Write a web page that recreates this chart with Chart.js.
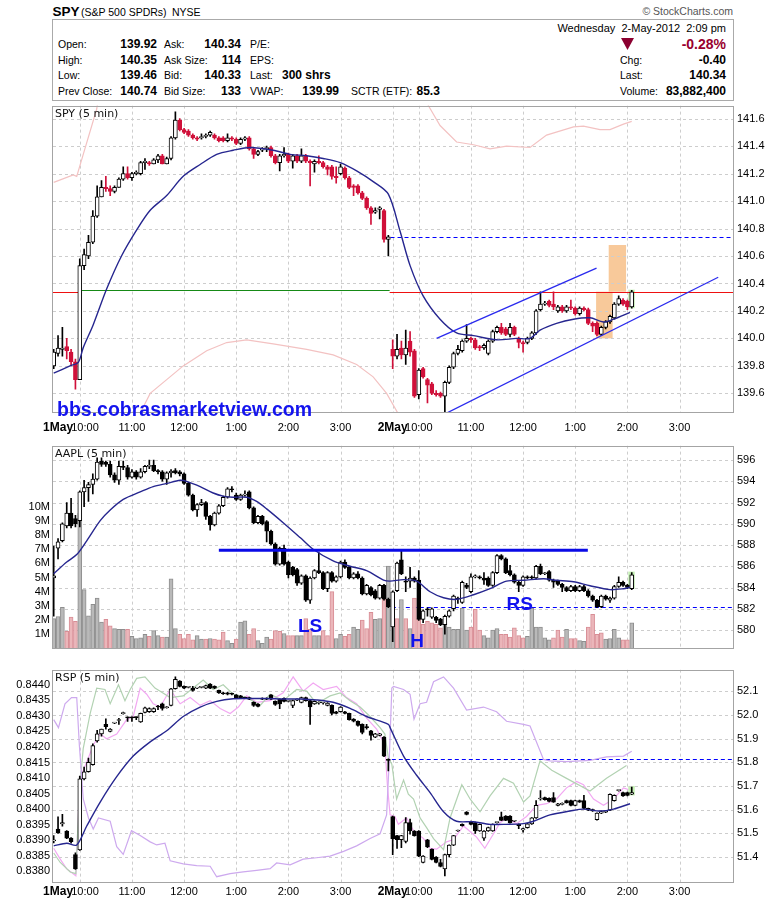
<!DOCTYPE html>
<html><head><meta charset="utf-8">
<script src="https://cdn.jsdelivr.net/npm/chart.js@4.4.1/dist/chart.umd.min.js"></script>
<style>
html,body{margin:0;padding:0;background:#fff;}
body{width:780px;height:901px;position:relative;overflow:hidden;font-family:"Liberation Sans",Arial,sans-serif;}
canvas{position:absolute;left:0;}
.t{position:absolute;white-space:nowrap;color:#000;}
#box{position:absolute;left:52px;top:19px;width:680px;height:80px;border:1px solid #aaa;}
</style></head><body>
<div id="box"></div>
<div id="hdr"></div>
<svg style="position:absolute;left:620px;top:37px" width="16" height="14"><polygon points="1,1 14,1 7.5,13" fill="#8b0030"/></svg>
<canvas id="cA" width="780" height="345" style="top:95px;width:780px;height:345px"></canvas>
<canvas id="cB" width="780" height="224" style="top:435px;width:780px;height:224px"></canvas>
<canvas id="cC" width="780" height="242" style="top:659px;width:780px;height:242px"></canvas>
<script>
// ---------------- DATA ----------------
const X_MIN = -0.16, X_MAX = 156.3;
const GRID_X = [6,18,30,42,54,66,78,84,96,108,120,132,144];
const timeLabelSlots = [1.0,7.2,18,30,42,54,66,78,84,96,108,120,132,144];
const timeLabels = ['1May','10:00','11:00','12:00','1:00','2:00','3:00','2May','10:00','11:00','12:00','1:00','2:00','3:00'];
const dayLabels = ['1May','2May'];

const spyTicks = [139.6,139.8,140.0,140.2,140.4,140.6,140.8,141.0,141.2,141.4,141.6];
const aaplTicks = [580,582,584,586,588,590,592,594,596];
const volTicks = [1,2,3,4,5,6,7,8,9,10];
const rspTicks = [51.4,51.5,51.6,51.7,51.8,51.9,52.0,52.1];
const rspLeftTicks = [0.8380,0.8385,0.8390,0.8395,0.8400,0.8405,0.8410,0.8415,0.8420,0.8425,0.8430,0.8435,0.8440];

const spyO = [
139.80,139.89,139.92,139.94,139.90,139.83,139.70,140.53,140.60,140.70,
140.89,141.03,141.10,141.09,141.07,141.10,141.16,141.20,141.17,141.20,
141.20,141.28,141.28,141.27,141.30,141.33,141.27,141.31,141.46,141.59,
141.52,141.51,141.48,141.46,141.46,141.47,141.48,141.48,141.46,141.46,
141.44,141.46,141.45,141.42,141.45,141.46,141.38,141.34,141.37,141.38,
141.39,141.33,141.28,141.33,141.34,141.29,141.33,141.29,141.33,141.29,
141.27,141.29,141.28,141.25,141.25,141.18,141.20,141.24,141.17,141.11,
141.11,141.06,141.02,140.95,140.92,140.94,140.93,140.72,139.92,139.87,
139.93,139.88,139.98,139.91,139.59,139.78,139.70,139.67,139.60,139.60,
139.58,139.68,139.79,139.89,139.91,139.98,140.00,139.99,139.94,139.93,
139.89,139.98,140.05,140.08,140.07,140.03,140.08,140.00,139.97,139.97,
140.00,140.04,140.21,140.25,140.27,140.25,140.20,140.23,140.20,140.23,
140.22,140.18,140.22,140.21,140.11,140.11,140.03,140.08,140.12,140.15,
140.25,140.28,140.27,140.23];
const spyH = [
139.92,140.02,140.08,140.00,139.92,139.85,140.58,140.65,140.75,140.93,
141.11,141.15,141.18,141.11,141.11,141.17,141.25,141.25,141.21,141.22,
141.29,141.31,141.29,141.31,141.34,141.34,141.32,141.47,141.65,141.60,
141.53,141.52,141.49,141.47,141.49,141.49,141.51,141.49,141.47,141.47,
141.49,141.47,141.46,141.46,141.47,141.47,141.39,141.37,141.39,141.40,
141.40,141.34,141.34,141.39,141.35,141.34,141.34,141.38,141.34,141.30,
141.30,141.33,141.29,141.26,141.26,141.25,141.27,141.25,141.18,141.12,
141.12,141.07,141.03,140.96,140.95,140.96,140.94,140.75,139.99,140.03,
139.98,140.06,140.05,139.92,139.78,139.79,139.71,139.68,139.62,139.61,
139.69,139.80,139.90,139.95,139.99,140.10,140.01,140.00,139.95,139.96,
139.99,140.06,140.09,140.11,140.08,140.11,140.09,140.01,139.98,140.01,
140.05,140.21,140.34,140.27,140.28,140.34,140.24,140.24,140.24,140.28,
140.23,140.23,140.23,140.22,140.12,140.12,140.09,140.13,140.17,140.26,
140.31,140.29,140.28,140.35];
const spyL = [
139.78,139.87,139.87,139.85,139.80,139.63,139.70,140.50,140.58,140.69,
140.88,141.03,141.07,141.04,141.06,141.10,141.15,141.16,141.15,141.19,
141.19,141.23,141.26,141.27,141.28,141.27,141.27,141.30,141.45,141.51,
141.49,141.47,141.45,141.44,141.45,141.46,141.47,141.45,141.43,141.43,
141.43,141.44,141.41,141.41,141.44,141.37,141.31,141.33,141.36,141.36,
141.32,141.27,141.22,141.32,141.28,141.24,141.28,141.28,141.28,141.11,
141.21,141.27,141.24,141.19,141.16,141.13,141.19,141.16,141.09,141.04,
141.05,141.01,140.94,140.83,140.91,140.87,140.70,140.60,139.78,139.85,
139.85,139.81,139.87,139.57,139.56,139.71,139.53,139.59,139.58,139.57,
139.46,139.67,139.78,139.88,139.90,139.97,139.97,139.92,139.91,139.92,
139.88,139.97,140.04,140.03,140.02,140.01,140.02,139.93,139.90,139.96,
139.99,140.03,140.20,140.24,140.23,140.21,140.19,140.19,140.19,140.21,
140.17,140.17,140.20,140.10,140.05,140.02,140.02,140.07,140.11,140.14,
140.24,140.24,140.21,140.22];
const spyC = [
139.90,139.93,139.93,139.91,139.83,139.70,140.53,140.61,140.70,140.89,
141.03,141.10,141.09,141.07,141.10,141.16,141.20,141.17,141.20,141.21,
141.28,141.29,141.27,141.30,141.33,141.27,141.31,141.46,141.59,141.52,
141.50,141.48,141.46,141.45,141.47,141.48,141.50,141.46,141.44,141.44,
141.46,141.45,141.42,141.45,141.46,141.38,141.34,141.36,141.38,141.39,
141.33,141.28,141.33,141.34,141.29,141.33,141.29,141.33,141.29,141.28,
141.29,141.28,141.25,141.23,141.18,141.17,141.25,141.17,141.10,141.10,
141.06,141.02,140.95,140.91,140.93,140.95,140.72,140.74,139.87,139.92,
139.88,139.93,139.90,139.58,139.77,139.72,139.66,139.60,139.59,139.58,
139.68,139.79,139.89,139.92,139.98,140.00,139.99,139.93,139.93,139.95,
139.98,140.05,140.08,140.04,140.03,140.08,140.03,139.97,139.96,140.00,
140.04,140.20,140.25,140.25,140.24,140.23,140.23,140.20,140.23,140.22,
140.18,140.22,140.21,140.11,140.09,140.03,140.08,140.12,140.16,140.25,
140.29,140.25,140.23,140.34];

const spyMaX = [0,3.75,5.66,6.8,9.1,12.2,15.6,19.1,22.2,26,29.8,33.7,37.5,41.3,45.2,50.5,54.4,58.2,62,65.9,69.7,73.6,77,79.7,82,85,88.9,92.7,96.6,101.9,106.5,109.6,111.9,115.7,119.6,123.4,126.5,128.8,132.6];
const spyMaY = [139.747,139.80,139.826,139.933,140.10,140.361,140.60,140.79,140.933,141.04,141.18,141.266,141.34,141.37,141.39,141.37,141.34,141.33,141.31,141.28,141.22,141.14,141.05,140.78,140.53,140.31,140.14,140.04,140.02,139.99,140.00,140.00,140.06,140.11,140.14,140.15,140.12,140.14,140.19];
const spyUp1X = [0,4.5,5.3,6.8,9.9,11.2];
const spyUp1Y = [141.136,141.19,141.18,141.34,141.67,141.95];
const spyUp2X = [80,86.2,88.9,92.7,96.6,100.4,104.2,109.6,113.4,119.6,121.9,125.7,128,131.1,133];
const spyUp2Y = [142.3,141.695,141.55,141.43,141.41,141.38,141.40,141.39,141.48,141.54,141.545,141.52,141.52,141.56,141.58];
const spyLoX = [19,22.2,26,29.8,35.2,39.8,44.4,50.5,58.2,64.3,69.7,73.5,76.6,79.3,80];
const spyLoY = [139.40,139.60,139.70,139.80,139.91,139.97,139.99,139.96,139.92,139.88,139.81,139.72,139.60,139.45,139.40];

const aaplO = [
584.9,587.7,588.4,589.8,591.0,590.5,590.3,593.0,593.4,593.7,
594.2,595.9,595.8,595.6,594.6,594.1,595.4,595.3,594.4,594.9,
594.4,594.9,595.4,595.5,595.0,594.9,594.2,594.8,595.0,594.9,
594.7,593.8,592.7,591.3,591.8,592.0,590.7,589.9,591.0,591.7,
592.5,593.3,592.7,592.3,592.7,593.0,591.5,590.1,590.7,590.2,
589.3,588.1,586.2,587.7,586.4,585.9,585.7,584.4,585.1,582.8,
584.9,585.6,585.4,583.9,585.4,584.6,585.0,586.4,585.9,584.9,
585.3,584.9,583.4,584.0,583.7,583.0,584.2,582.9,580.3,583.7,
586.6,584.6,584.6,584.9,584.7,581.0,582.0,581.2,581.2,581.0,
580.5,581.3,582.0,583.0,582.6,584.2,583.6,585.0,585.0,584.9,
584.9,584.2,585.4,587.0,586.7,585.6,585.2,584.5,584.2,585.0,
585.0,584.9,586.0,585.3,585.5,584.7,584.6,584.3,584.0,583.7,
584.1,583.7,584.1,583.7,583.2,582.8,582.2,583.2,582.8,583.0,
584.1,584.5,584.2,583.9];
const aaplH = [
587.9,588.6,590.1,592.0,592.4,590.8,593.1,594.1,593.9,594.7,
596.2,596.2,595.9,595.9,594.8,595.9,595.9,595.5,595.1,595.0,
595.2,595.5,596.0,596.0,595.1,595.0,594.9,595.1,595.2,595.0,
594.8,593.9,592.8,591.9,592.3,592.1,590.8,591.1,591.8,592.6,
593.4,593.5,592.9,592.8,593.1,593.1,591.6,590.8,590.8,590.3,
589.4,588.2,587.8,588.0,586.5,586.0,585.8,585.2,585.2,585.0,
585.7,587.3,585.5,585.5,585.5,585.1,586.5,586.6,586.0,585.4,
585.5,585.0,584.3,584.1,583.8,584.3,584.3,583.0,583.7,586.4,
587.4,585.0,585.9,585.0,585.6,581.9,582.1,582.1,581.3,581.1,
581.4,581.9,583.3,583.1,584.6,584.4,585.3,585.2,585.1,585.4,
585.0,585.5,587.1,587.1,586.8,586.1,585.3,584.6,585.1,585.1,
585.1,586.1,586.2,585.4,585.6,584.8,584.7,584.4,584.1,584.2,
584.2,584.2,584.2,583.8,583.3,582.9,583.3,583.3,583.1,584.2,
585.0,584.6,584.3,585.4];
const aaplL = [
581.3,586.7,588.3,589.6,589.6,589.7,589.7,591.6,592.1,592.8,
594.1,595.4,595.4,594.4,593.9,593.7,595.1,594.2,594.3,594.2,
594.3,594.8,595.2,594.9,594.7,594.0,593.7,594.4,594.7,594.5,
593.7,592.6,591.2,590.7,591.7,590.4,589.4,589.8,590.9,591.6,
592.4,593.0,592.2,592.2,592.6,591.4,590.0,590.0,589.9,588.3,
588.0,586.1,586.1,586.1,584.9,585.1,584.2,584.3,582.7,582.5,
584.8,585.3,583.8,583.6,584.5,584.5,584.9,585.8,584.8,584.8,
584.8,583.3,583.3,583.2,582.9,582.9,582.8,582.1,578.9,583.6,
585.2,583.6,584.0,584.5,580.9,580.7,581.3,581.1,580.7,580.4,
579.6,581.2,581.8,582.5,582.5,583.9,583.5,584.9,584.8,584.3,
584.1,584.1,585.3,586.6,585.3,585.1,584.4,583.6,584.1,584.8,
584.8,584.8,585.2,585.2,584.6,584.0,584.2,583.6,583.6,583.6,
583.6,583.6,583.6,583.1,582.7,582.1,582.1,582.8,582.6,582.9,
584.0,584.1,583.9,583.8];
const aaplC = [
585.1,588.3,590.0,591.0,589.8,590.0,593.0,593.4,593.7,594.2,
595.8,595.6,595.6,594.6,594.1,595.4,595.3,594.4,594.9,594.4,
594.9,595.4,595.5,595.0,594.9,594.2,594.8,594.95,594.8,594.7,
593.8,592.7,591.3,591.8,592.0,590.7,589.9,591.0,591.7,592.5,
593.3,593.2,592.3,592.7,592.8,591.5,590.1,590.7,590.0,589.3,
588.1,586.2,587.7,586.2,585.2,585.2,584.4,585.1,582.8,584.9,
585.6,585.4,583.9,585.4,584.6,585.0,586.4,585.9,584.9,585.3,
584.9,583.4,584.2,583.3,583.0,584.2,582.9,582.2,583.6,586.3,
585.3,584.5,584.9,584.6,581.0,581.8,581.9,582.0,580.9,580.5,
581.3,581.8,583.2,582.9,584.5,584.0,585.0,585.1,584.9,584.7,
584.2,585.4,587.0,586.7,585.4,585.2,584.5,584.2,585.0,584.9,
584.9,586.0,585.3,585.3,584.7,584.5,584.3,584.0,583.7,584.1,
583.7,584.1,583.7,583.2,582.8,582.2,583.2,582.9,583.0,584.1,
584.5,584.2,584.0,585.2];
const aaplVol = [
2.1,2.25,2.9,1.2,2.2,1.9,9.55,4.15,2.3,3.1,
3.55,1.85,2.05,1.6,1.4,1.35,1.35,1.35,0.85,0.7,
0.75,1.0,0.85,1.25,0.9,0.8,0.8,4.9,1.4,1.0,
0.7,1.0,0.6,0.9,0.65,0.65,0.7,0.65,0.6,1.15,
0.55,0.35,0.65,1.85,1.95,1.0,1.4,0.55,0.35,0.8,
0.65,1.25,1.2,1.05,0.9,0.9,0.9,0.9,2.1,1.35,
0.9,0.9,1.25,0.9,4.0,0.7,1.0,0.85,1.0,1.5,
1.35,2.0,1.4,2.55,2.05,2.1,4.15,5.8,3.0,2.1,
3.45,2.1,1.4,3.55,2.1,1.7,1.9,1.8,1.7,1.45,
1.85,1.5,1.35,1.35,2.85,1.3,1.5,2.75,1.3,0.9,
0.75,1.3,1.4,1.0,1.0,0.8,1.45,0.9,0.75,0.85,
2.85,1.5,1.5,0.75,0.6,0.75,1.3,0.8,1.35,0.7,
0.7,0.55,0.5,1.5,2.4,1.0,1.1,0.65,0.7,1.35,
0.75,0.6,0.6,1.8];
const aaplVolUp = [
1,1,1,0,0,0,1,1,1,1,
1,1,0,0,1,1,1,0,1,1,
1,1,0,1,1,0,1,1,1,0,
0,0,0,1,1,0,1,0,0,0,
1,1,0,1,1,0,0,1,1,1,
0,0,0,1,0,0,1,1,0,0,
1,1,0,0,0,1,1,0,0,1,
1,0,0,0,1,1,0,1,1,0,
1,0,1,0,0,0,0,0,0,0,
1,1,1,1,1,1,0,0,0,1,
1,1,1,0,0,0,0,0,0,1,
1,1,1,1,1,0,0,0,1,0,
0,1,1,0,0,0,0,1,1,1,
1,0,0,1];
const aaplMaX = [0,3,5.3,7.6,10.7,13,16,19.9,22.9,26,29.1,30.6,33.7,36.7,39,41.3,44.4,46.7,49,52.8,56.7,59.7,64.3,68.2,72,75.9,77.4,80.5,83.5,86.6,89.7,92.7,96.6,100.4,104.2,108.1,112.7,115.7,119.6,123.4,128,131.1,132.6];
const aaplMaY = [585.3,586.4,587.1,588.4,590.3,591.3,592.3,593.0,593.5,593.8,594.1,594.0,593.5,592.9,592.6,592.5,592.5,592.1,591.4,590.1,588.7,587.6,586.5,586.0,585.6,584.7,584.6,584.74,584.6,583.6,583.04,582.89,583.32,583.89,584.6,584.68,584.82,584.68,584.54,584.17,583.8,583.89,584.03];

const rspO = [
51.468,51.518,51.540,51.510,51.480,51.410,51.430,51.730,51.760,51.790,
51.890,51.920,51.960,51.930,51.965,51.976,52.005,51.990,51.990,51.990,
51.970,52.010,52.013,52.013,52.036,52.047,52.030,52.040,52.110,52.143,
52.120,52.116,52.113,52.113,52.116,52.113,52.130,52.120,52.103,52.093,
52.093,52.090,52.084,52.080,52.073,52.073,52.053,52.046,52.070,52.070,
52.084,52.057,52.066,52.070,52.057,52.040,52.062,52.053,52.073,52.060,
52.046,52.050,52.050,52.040,52.040,52.013,52.013,52.013,52.006,51.982,
51.973,51.960,51.947,51.933,51.906,51.913,51.906,51.812,51.571,51.490,
51.473,51.466,51.545,51.510,51.510,51.377,51.473,51.433,51.400,51.377,
51.350,51.410,51.450,51.510,51.538,51.590,51.550,51.545,51.510,51.480,
51.510,51.510,51.545,51.570,51.573,51.573,51.551,51.538,51.514,51.524,
51.540,51.565,51.645,51.651,51.648,51.651,51.618,51.622,51.638,51.638,
51.618,51.638,51.638,51.605,51.600,51.558,51.585,51.589,51.598,51.638,
51.680,51.672,51.672,51.665];
const rspH = [
51.490,51.570,51.580,51.512,51.482,51.418,51.742,51.780,51.818,51.878,
51.935,51.940,51.983,51.942,51.968,51.985,52.012,51.992,51.992,51.992,
52.008,52.033,52.030,52.030,52.040,52.050,52.035,52.112,52.160,52.145,
52.122,52.118,52.120,52.115,52.118,52.126,52.132,52.122,52.105,52.095,
52.095,52.092,52.086,52.082,52.075,52.075,52.055,52.048,52.072,52.072,
52.086,52.059,52.068,52.072,52.060,52.062,52.068,52.075,52.075,52.062,
52.059,52.055,52.053,52.052,52.042,52.015,52.035,52.015,52.008,51.984,
51.975,51.962,51.960,51.935,51.922,51.922,51.908,51.814,51.573,51.492,
51.492,51.566,51.560,51.512,51.512,51.406,51.475,51.435,51.402,51.390,
51.412,51.452,51.492,51.514,51.540,51.592,51.552,51.547,51.540,51.512,
51.526,51.540,51.548,51.590,51.575,51.575,51.554,51.540,51.522,51.542,
51.567,51.638,51.680,51.653,51.650,51.672,51.627,51.629,51.640,51.640,
51.640,51.640,51.660,51.607,51.602,51.587,51.594,51.597,51.667,51.662,
51.683,51.674,51.674,51.695];
const rspL = [
51.460,51.500,51.530,51.478,51.458,51.348,51.428,51.725,51.758,51.788,
51.885,51.910,51.940,51.928,51.963,51.960,52.003,51.972,51.972,51.980,
51.968,52.008,52.010,52.010,52.022,52.020,52.028,52.038,52.108,52.118,
52.110,52.114,52.100,52.111,52.114,52.111,52.110,52.110,52.090,52.086,
52.084,52.084,52.070,52.068,52.068,52.064,52.036,52.033,52.064,52.064,
52.064,52.040,52.026,52.055,52.055,52.030,52.060,52.050,52.058,51.960,
52.044,52.045,52.045,52.038,52.000,52.004,52.011,52.004,51.978,51.970,
51.952,51.920,51.940,51.893,51.904,51.911,51.824,51.763,51.410,51.436,
51.440,51.460,51.497,51.488,51.402,51.375,51.440,51.388,51.375,51.358,
51.320,51.400,51.448,51.508,51.530,51.578,51.536,51.500,51.508,51.470,
51.508,51.508,51.543,51.553,51.553,51.543,51.549,51.520,51.505,51.522,
51.538,51.563,51.640,51.640,51.633,51.630,51.616,51.620,51.627,51.616,
51.616,51.630,51.603,51.596,51.593,51.556,51.583,51.587,51.596,51.636,
51.678,51.656,51.658,51.663];
const rspC = [
51.470,51.502,51.545,51.480,51.465,51.350,51.730,51.760,51.800,51.870,
51.920,51.940,51.950,51.940,51.966,51.977,52.008,51.987,51.987,51.988,
52.006,52.030,52.027,52.027,52.033,52.027,52.033,52.110,52.150,52.120,
52.113,52.116,52.103,52.113,52.116,52.124,52.113,52.113,52.093,52.089,
52.087,52.087,52.073,52.070,52.070,52.066,52.040,52.036,52.066,52.066,
52.066,52.044,52.046,52.057,52.058,52.060,52.066,52.073,52.060,52.033,
52.057,52.053,52.051,52.050,52.006,52.006,52.033,52.006,51.980,51.973,
51.955,51.926,51.946,51.913,51.920,51.920,51.826,51.808,51.478,51.473,
51.490,51.545,51.510,51.490,51.404,51.404,51.443,51.390,51.377,51.360,
51.410,51.450,51.490,51.512,51.532,51.580,51.538,51.510,51.538,51.510,
51.524,51.538,51.546,51.555,51.555,51.545,51.552,51.532,51.520,51.540,
51.565,51.618,51.646,51.642,51.635,51.632,51.625,51.627,51.629,51.618,
51.638,51.632,51.605,51.598,51.595,51.585,51.592,51.595,51.665,51.660,
51.681,51.658,51.660,51.672];
const rspMaX = [0,3,5.3,7.6,10.7,14.5,18.3,22.2,26,29.8,33.7,37.5,41.3,45.2,49,52.8,56.7,60.5,64.3,68.2,72,77,77.4,80.5,83.5,86.6,89.7,92.7,96.6,100.4,104.2,108.1,110.4,114.2,118.8,121.9,125.7,128.8,132.6];
const rspMaY = [51.447,51.458,51.451,51.531,51.632,51.739,51.826,51.886,51.933,51.993,52.033,52.057,52.068,52.069,52.069,52.067,52.067,52.063,52.053,52.027,51.993,51.960,51.946,51.826,51.745,51.672,51.591,51.551,51.549,51.538,51.538,51.541,51.551,51.578,51.594,51.602,51.594,51.602,51.625];
const rspMauveX = [0,1.1,2.6,4.1,5.3,5.9,6.8,8.0,9.1,10.3,13.0,14.5,16.0,17.9,19.9,22.2,23.7,25.6,26.8,29.8,32.9,36.0,37.5,40.6,43.6,46.7,49.8,51.3,54.4,57.4,60.5,63.6,66.7,69.7,72.8,75.1,76.6,77.2,77.8,78.2,80.5,82.0,82.9,84.3,85.8,87.4,89.7,92.0,95.0,98.9,101.9,104.2,108.1,109.6,112.7,114.2,118.0,123.4,127.2,131.1,133.0];
const rspMauveY = [51.980,51.946,52.047,52.073,52.073,51.873,51.645,51.565,51.518,51.565,51.551,51.444,51.411,51.511,51.491,51.464,51.451,51.458,51.384,51.371,51.364,51.361,51.317,51.330,51.337,51.344,51.351,51.375,51.367,51.391,51.397,51.404,51.424,51.447,51.478,51.498,51.578,51.806,52.113,52.120,52.107,52.087,51.982,52.047,52.053,52.140,52.160,52.113,52.020,52.033,52.013,51.973,51.960,51.953,51.812,51.806,51.803,51.808,51.823,51.826,51.846];
const rspPinkX = [0,1.5,3.0,5.1,5.9,6.8,8.0,9.1,10.7,12.2,14.5,16.8,18.3,19.9,21.4,22.9,24.5,26.8,29.1,31.4,33.7,36.0,38.3,40.6,42.5,44.4,46.7,49.8,52.8,55.1,57.4,59.7,62.0,65.1,67.4,69.7,72.0,74.3,76.2,76.8,77.4,78.5,79.3,81.2,82.8,85.1,86.6,88.1,90.4,92.0,94.3,95.8,97.3,99.2,101.2,102.7,104.2,106.5,108.8,111.1,113.4,115.7,118.0,120.3,121.9,124.2,126.5,128.8,131.1,132.2];
const rspPinkY = [51.437,51.391,51.350,51.321,51.685,51.766,51.819,51.873,51.919,51.899,51.919,51.980,51.993,52.113,52.087,52.047,52.033,52.107,52.047,52.073,52.040,52.060,52.027,52.006,52.033,52.080,52.053,52.060,52.093,52.160,52.100,52.134,52.107,52.120,52.073,52.047,51.986,51.940,51.873,51.699,51.578,51.571,51.538,51.565,51.511,51.478,51.437,51.433,51.464,51.474,51.531,51.508,51.484,51.437,51.498,51.545,51.565,51.541,51.571,51.618,51.625,51.645,51.692,51.719,51.705,51.645,51.618,51.645,51.692,51.685];
const rspGreenX = [0,1.5,3.8,5.1,5.9,6.8,8.4,9.9,11.8,13.0,14.9,16.4,17.6,19.1,21.0,23.3,24.5,26.8,29.8,32.1,34.4,36.7,39.0,41.3,44.4,47.5,49.8,52.8,55.9,58.2,60.5,63.6,65.9,68.2,70.5,72.8,75.1,76.2,77.0,77.8,78.9,80.5,81.6,82.8,84.3,85.8,87.4,89.7,91.2,93.9,95.8,98.1,100.4,103.5,105.8,108.1,109.6,111.9,114.6,118.0,123.4,127.2,131.8];
const rspGreenY = [51.417,51.377,51.337,51.330,51.672,51.859,52.006,52.113,52.107,52.047,52.127,52.060,52.107,52.154,52.160,52.113,52.100,52.073,52.080,52.113,52.147,52.107,52.127,52.087,52.073,52.040,52.087,52.060,52.107,52.100,52.047,52.080,52.093,52.060,52.033,51.993,51.946,51.919,51.819,51.792,51.645,51.725,51.665,51.645,51.565,51.524,51.478,51.431,51.565,51.705,51.645,51.591,51.658,51.732,51.712,51.632,51.658,51.806,51.766,51.732,51.679,51.732,51.786];

// ---------------- HEADER (text) ----------------
const hdr = document.getElementById('hdr');
function put(txt, x, base, size, o){
  o = o || {};
  const d = document.createElement('div');
  d.className = 't';
  d.textContent = txt;
  d.style.fontSize = size + 'px';
  d.style.lineHeight = size + 'px';
  d.style.top = (base - 0.83*size) + 'px';
  if (o.bold) d.style.fontWeight = 'bold';
  if (o.color) d.style.color = o.color;
  if (o.align === 'right') d.style.right = (780 - x) + 'px'; else d.style.left = x + 'px';
  hdr.appendChild(d);
}
put('SPY', 52.5, 16, 13.5, {bold:true});
put('(S&P 500 SPDRs)', 81, 16, 10.5);
put('NYSE', 172, 16, 10.5);
put('\u00A9 StockCharts.com', 733, 15, 10.5, {align:'right', color:'#555'});
const rowBase = [48, 63.5, 79, 95];
const col1L = ['Open:','High:','Low:','Prev Close:'];
const col1V = ['139.92','140.35','139.46','140.74'];
const col2L = ['Ask:','Ask Size:','Bid:','Bid Size:'];
const col2V = ['140.34','114','140.33','133'];
const col3L = ['P/E:','EPS:','Last:','VWAP:'];
rowBase.forEach((b,i)=>{
  put(col1L[i], 58, b, 10.5);
  put(col1V[i], 157, b, 12, {bold:true, align:'right'});
  put(col2L[i], 164, b, 10.5);
  put(col2V[i], 241, b, 12, {bold:true, align:'right'});
  put(col3L[i], 250, b, 10.5);
});
put('300 shrs', 282, 79, 12, {bold:true});
put('139.99', 339, 95, 12, {bold:true, align:'right'});
put('SCTR (ETF):', 351, 95, 10.5);
put('85.3', 416.5, 95, 12, {bold:true});
put('Wednesday\u00A0\u00A02-May-2012\u00A0\u00A02:09 pm', 726, 32, 11, {align:'right'});
put('-0.28%', 726, 48.5, 14, {bold:true, align:'right', color:'#99002e'});
put('Chg:', 620, 63.5, 10.5); put('-0.40', 726, 63.5, 12, {bold:true, align:'right'});
put('Last:', 620, 79, 10.5); put('140.34', 726, 79, 12, {bold:true, align:'right'});
put('Volume:', 620, 95, 10.5); put('83,882,400', 726, 95, 12, {bold:true, align:'right'});

// ---------------- CHART HELPERS ----------------
const FONT = '"Liberation Sans", Arial, sans-serif';
const DECO = {};
function P(s, v){ return s.getPixelForValue(v); }
function seg(ctx, X, Y, xs, ys, st, snap){
  ctx.save();
  ctx.strokeStyle = st.color; ctx.lineWidth = st.width || 1; ctx.setLineDash(st.dash || []);
  let y1 = P(Y, ys[0]), y2 = P(Y, ys[1]);
  if (snap) { y1 = y2 = Math.round(y1) + 0.5; }
  ctx.beginPath(); ctx.moveTo(P(X, xs[0]), y1); ctx.lineTo(P(X, xs[1]), y2); ctx.stroke();
  ctx.restore();
}
const decoPlugin = {
  id: 'deco',
  beforeDatasetsDraw(chart){
    const o = DECO[chart.canvas.id]; if (!o) return;
    const {ctx, chartArea:a, scales} = chart, X = scales.x;
    ctx.save();
    ctx.beginPath(); ctx.rect(a.left, a.top, a.right - a.left, a.bottom - a.top); ctx.clip();
    (o.rects || []).forEach(r => {
      const Y = scales[r.axis || 'y'];
      const x1 = P(X, r.x[0]), x2 = P(X, r.x[1]), y1 = P(Y, r.y[0]), y2 = P(Y, r.y[1]);
      ctx.fillStyle = r.color;
      ctx.fillRect(Math.min(x1,x2), Math.min(y1,y2), Math.abs(x2-x1), Math.abs(y2-y1));
    });
    ctx.lineWidth = 1; ctx.strokeStyle = '#cdcdcd'; ctx.setLineDash([3,3]);
    ctx.beginPath();
    GRID_X.forEach(v => { const x = Math.round(P(X, v)) + 0.5; ctx.moveTo(x, a.top); ctx.lineTo(x, a.bottom); });
    const GY = scales[o.gridAxis || 'y'];
    o.gridY.forEach(v => { const y = Math.round(P(GY, v)) + 0.5; ctx.moveTo(a.left, y); ctx.lineTo(a.right, y); });
    ctx.stroke();
    ctx.setLineDash([]);
    (o.hlines || []).forEach(l => seg(ctx, X, scales[l.axis || 'y'], l.x, [l.y, l.y], l, true));
    ctx.restore();
  },
  afterDatasetsDraw(chart){
    const o = DECO[chart.canvas.id]; if (!o) return;
    const {ctx, chartArea:a, scales} = chart, X = scales.x;
    ctx.save();
    ctx.beginPath(); ctx.rect(a.left, a.top, a.right - a.left, a.bottom - a.top); ctx.clip();
    (o.segs || []).forEach(s => seg(ctx, X, scales[s.axis || 'y'], s.x, s.y, s, false));
    ctx.restore();
  },
  afterDraw(chart){
    const o = DECO[chart.canvas.id]; if (!o) return;
    const {ctx, chartArea:a, scales} = chart, X = scales.x;
    ctx.save();
    ctx.strokeStyle = '#a4a4a4'; ctx.lineWidth = 1; ctx.setLineDash([]);
    ctx.strokeRect(Math.round(a.left) - 0.5, Math.round(a.top) + 0.5, Math.round(a.right - a.left) + 1, Math.round(a.bottom - a.top) - 1);
    ctx.fillStyle = '#111'; ctx.font = '11px "DejaVu Sans", sans-serif';
    ctx.textAlign = 'left'; ctx.textBaseline = 'alphabetic';
    ctx.fillText(o.title, a.left + 2, a.top + 11.5);
    (o.texts || []).forEach(t => {
      const Y = scales[t.axis || 'y'];
      ctx.font = t.font; ctx.fillStyle = t.color; ctx.textAlign = t.align || 'center';
      ctx.fillText(t.t, P(X, t.x), P(Y, t.y));
    });
    if (o.xLabels) {
      ctx.textBaseline = 'middle'; ctx.textAlign = 'center'; ctx.fillStyle = '#000';
      timeLabels.forEach((lab, i) => {
        const bold = dayLabels.includes(lab);
        ctx.font = (bold ? 'bold 12px ' : '11px ') + FONT;
        ctx.fillText(lab, P(X, timeLabelSlots[i]), a.bottom + o.xLabelDy);
      });
    }
    ctx.restore();
  }
};
Chart.register(decoPlugin);

function lineDS(xs, ys, color, width, order, axis, smooth){
  return {type:'line', data: xs.map((x,i)=>({x:x, y:ys[i]})), borderColor: color, borderWidth: width,
    pointRadius: 0, fill: false, tension: smooth ? 0.3 : 0, order: order, yAxisID: axis || 'y'};
}
function candleDS(O, H, L, C, st, axis){
  const down = O.map((o,i)=>C[i] < o);
  return [
    {type:'bar', data: O.map((o,i)=>({x:i, y:[L[i], H[i]]})), backgroundColor: down.map(d=>d?st.downWick:st.upWick),
     borderWidth: 0, barThickness: 1, grouped: false, order: 2, yAxisID: axis || 'y'},
    {type:'bar', data: O.map((o,i)=>({x:i, y:[o, C[i]]})), backgroundColor: down.map(d=>d?st.downFill:st.upFill),
     borderColor: down.map(d=>d?st.downLine:st.upLine), borderWidth: 1, borderSkipped: false,
     barThickness: 4, minBarLength: 1, grouped: false, order: 1, yAxisID: axis || 'y'}
  ];
}
function xScale(){ return {type:'linear', min:X_MIN, max:X_MAX, offset:false, display:false}; }
function yScale(pos, min, max, ticks, fmt, width, pad){
  return {type:'linear', position:pos, min:min, max:max,
    grid:{display:false, drawTicks:false}, border:{display:false},
    ticks:{padding:pad, color:'#000', autoSkip:false, font:{family:FONT, size:11}, callback:fmt},
    afterBuildTicks: s => { s.ticks = ticks.map(v=>({value:v})); },
    afterFit: s => { s.width = width; }};
}
function opts(pad, scales){
  return {responsive:false, animation:false, events:[], layout:{padding:pad},
    plugins:{legend:{display:false}, tooltip:{enabled:false}},
    scales: Object.assign({x: xScale()}, scales)};
}
const spyStyle = {upFill:'#ffffff', upLine:'#000000', upWick:'#000000', downFill:'#d0103a', downLine:'#d0103a', downWick:'#d0103a'};
const bwStyle = {upFill:'#ffffff', upLine:'#000000', upWick:'#000000', downFill:'#000000', downLine:'#000000', downWick:'#000000'};
const MA_COLOR = '#26268f';
const BLUE = '#0000ff';
const LABEL_FONT = 'bold 19px ' + FONT;

// ---------------- SPY ----------------
DECO.cA = {
  title:'SPY (5 min)', gridAxis:'y', gridY: spyTicks, xLabels:true, xLabelDy:15,
  rects:[
    {x:[124.8,128.6], y:[140.0,140.34], color:'#f8c99a'},
    {x:[127.7,131.7], y:[140.34,140.68], color:'#f8c99a'},
    {x:[132.2,133.7], y:[140.22,140.355], color:'#c6f0b6'}],
  hlines:[
    {x:[-1,6], y:140.34, color:'#ee1111'},
    {x:[77.3,200], y:140.34, color:'#ee1111'},
    {x:[6,77.3], y:140.35, color:'#168a16'},
    {x:[-1,200], y:139.46, color:'#168a16'},
    {x:[77.5,200], y:140.74, color:BLUE, dash:[4,3], width:1.2}],
  segs:[
    {x:[88.1,124.9], y:[140.0,140.512], color:'#2a2aee', width:1.3},
    {x:[86.2,152.9], y:[139.39,140.445], color:'#2a2aee', width:1.3}],
  texts:[{t:'bbs.cobrasmarketview.com', x:0.76, y:139.434, font:'bold 19.5px ' + FONT, color:'#1414ee', align:'left'}]
};
new Chart(document.getElementById('cA'), {
  type:'bar',
  data:{datasets:[
    lineDS(spyUp1X, spyUp1Y, '#f3c2c2', 1.2, 3),
    lineDS(spyUp2X, spyUp2Y, '#f3c2c2', 1.2, 3),
    lineDS(spyLoX, spyLoY, '#f3c2c2', 1.2, 3),
    ...candleDS(spyO, spyH, spyL, spyC, spyStyle),
    lineDS(spyMaX, spyMaY, MA_COLOR, 1.4, 0, 'y', true)
  ]},
  options: opts({top:5, left:53, right:0, bottom:27},
    {y: yScale('right', 139.457, 141.695, spyTicks, v => Number(v).toFixed(1), 47, 4)})
});

// ---------------- AAPL ----------------
DECO.cB = {
  title:'AAPL (5 min)', gridAxis:'y', gridY: aaplTicks,
  rects:[{x:[132.2,133.7], y:[583.9,585.5], color:'#c6f0b6'}],
  hlines:[{x:[77.8,200], y:582.2, color:BLUE, dash:[4,3], width:1.2}],
  segs:[{x:[38.0,122.9], y:[587.52,587.52], color:'#0a0ae6', width:3}],
  texts:[
    {t:'LS', x:59.0, y:579.83, font:LABEL_FONT, color:'#1212ee'},
    {t:'H', x:83.6, y:578.38, font:LABEL_FONT, color:'#1212ee'},
    {t:'RS', x:107.2, y:581.87, font:LABEL_FONT, color:'#1212ee'}]
};
new Chart(document.getElementById('cB'), {
  type:'bar',
  data:{datasets:[
    {type:'bar', data: aaplVol.map((v,i)=>({x:i, y:v})), yAxisID:'yv', order:4, grouped:false,
     backgroundColor: aaplVolUp.map(u=>u?'#b9b9b9':'#ebb6ba'), borderColor: aaplVolUp.map(u=>u?'#8e8e8e':'#d88e96'),
     borderWidth:1, borderSkipped:'start', barThickness:4},
    ...candleDS(aaplO, aaplH, aaplL, aaplC, bwStyle),
    lineDS(aaplMaX, aaplMaY, MA_COLOR, 1.4, 0, 'y', true)
  ]},
  options: opts({top:0, left:0, right:0, bottom:0}, {
    y: yScale('right', 578.27, 597.36, aaplTicks, v => String(v), 47, 4),
    yv: yScale('left', 0, 14.3, volTicks, v => v + 'M', 53, 3)
  })
});

// ---------------- RSP ----------------
DECO.cC = {
  title:'RSP (5 min)', gridAxis:'y', gridY: rspTicks, xLabels:true, xLabelDy:9,
  rects:[{x:[132.2,133.7], y:[51.66,51.70], color:'#c6f0b6'}],
  hlines:[{x:[77.8,200], y:51.812, color:BLUE, dash:[4,3], width:1.2}]
};
new Chart(document.getElementById('cC'), {
  type:'bar',
  data:{datasets:[
    lineDS(rspMauveX, rspMauveY, '#cda9ee', 1.2, 3),
    lineDS(rspGreenX, rspGreenY, '#b2d2b2', 1.2, 3),
    lineDS(rspPinkX, rspPinkY, '#f2a8f2', 1.2, 3),
    ...candleDS(rspO, rspH, rspL, rspC, bwStyle),
    lineDS(rspMaX, rspMaY, MA_COLOR, 1.4, 0, 'y', true)
  ]},
  options: opts({top:0, left:0, right:0, bottom:18}, {
    y: yScale('right', 51.2904, 52.191, rspTicks, v => Number(v).toFixed(1), 47, 4),
    y2: yScale('left', 0.83762, 0.84449, rspLeftTicks, v => Number(v).toFixed(4), 53, 3)
  })
});
</script>
</body></html>
